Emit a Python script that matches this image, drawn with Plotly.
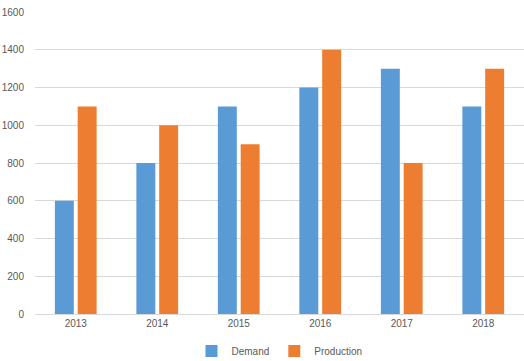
import plotly.graph_objects as go

years = ["2013", "2014", "2015", "2016", "2017", "2018"]
demand = [600, 800, 1100, 1200, 1300, 1100]
production = [1100, 1000, 900, 1400, 800, 1300]
y_ticks = [0, 200, 400, 600, 800, 1000, 1200, 1400, 1600]

fig = go.Figure()
fig.add_trace(go.Bar(name="Demand", x=years, y=demand, marker=dict(color="#5B9BD5", line=dict(width=0))))
fig.add_trace(go.Bar(name="Production", x=years, y=production, marker=dict(color="#ED7D31", line=dict(width=0))))

font = dict(family="Liberation Sans, Arial, sans-serif", size=10, color="#595959")
fig.update_layout(
    width=524, height=361,
    margin=dict(l=35, r=0, t=12, b=47, autoexpand=False),
    paper_bgcolor="white", plot_bgcolor="white",
    barmode="group", bargap=0.44, bargroupgap=0.17,
    font=font,
    showlegend=True,
    legend=dict(orientation="h", x=0.5, xanchor="center", yref="container", y=0.028, yanchor="middle",
                font=font, itemwidth=30, traceorder="normal"),
    xaxis=dict(showgrid=False, showline=True, linecolor="#D9D9D9", linewidth=1,
               ticks="", tickfont=font, automargin=False),
    yaxis=dict(range=[0, 1600], tickvals=y_ticks, showgrid=True, gridcolor="#D9D9D9",
               gridwidth=1, zeroline=False, showline=False, ticks="", tickfont=font,
               ticklabelstandoff=10, automargin=False),
)
fig.write_html("out.html", config={"displayModeBar": False},
               post_script="document.body.style.margin='0';document.body.style.overflow='hidden';")
